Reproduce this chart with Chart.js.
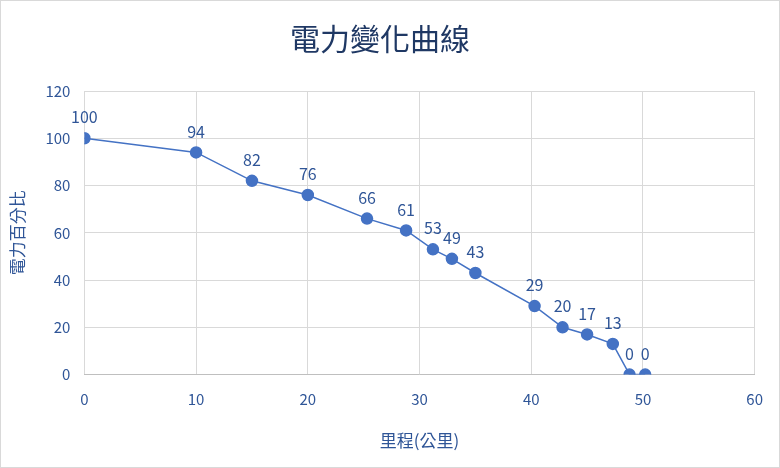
<!DOCTYPE html>
<html>
<head>
<meta charset="utf-8">
<script src="https://cdn.jsdelivr.net/npm/chart.js@4"></script>
<style>
  body { margin: 0; background: #fff; }
  #wrap { width: 778px; height: 466px; border: 1px solid #d9d9d9; }
</style>
</head>
<body>
<div id="wrap"><canvas id="chart" width="778" height="466"></canvas></div>
<script>
// mileage (km) and battery percent
const mileage = [0, 10, 15, 20, 25.3, 28.8, 31.2, 32.9, 35, 40.3, 42.8, 45, 47.3, 48.8, 50.2];
const battery = [100, 94, 82, 76, 66, 61, 53, 49, 43, 29, 20, 17, 13, 0, 0];

const FONT = "'Noto Sans CJK TC', 'Noto Sans', sans-serif";
const BLUE = "#2f5597";

// draw value labels above each point
const pointLabels = {
    id: "pointLabels",
    afterDatasetsDraw(chart) {
        const ctx = chart.ctx;
        const meta = chart.getDatasetMeta(0);
        ctx.save();
        ctx.font = `16px ${FONT}`;
        ctx.fillStyle = BLUE;
        ctx.textAlign = "center";
        ctx.textBaseline = "bottom";
        meta.data.forEach((pt, i) => {
            ctx.fillText(String(battery[i]), pt.x, pt.y - 13);
        });
        ctx.restore();
    },
};

new Chart(document.getElementById("chart"), {
    type: "scatter",
    data: {
        datasets: [{
            data: mileage.map((x, i) => ({ x, y: battery[i] })),
            showLine: true,
            borderColor: "#4472c4",
            backgroundColor: "#4472c4",
            borderWidth: 1.5,
            pointRadius: 5.5,
            pointHoverRadius: 5.5,
        }],
    },
    options: {
        responsive: false,
        animation: false,
        layout: { padding: { left: 2, right: 22, top: 10, bottom: 12 } },
        plugins: {
            legend: { display: false },
            tooltip: { enabled: false },
            title: {
                display: true,
                text: "電力變化曲線",
                color: "#1f3864",
                font: { family: FONT, size: 30, weight: "normal" },
                padding: { top: 10, bottom: 34 },
            },
        },
        scales: {
            x: {
                min: 0, max: 60,
                ticks: { stepSize: 10, color: BLUE, font: { family: FONT, size: 15 }, padding: 16 },
                grid: { color: "#d9d9d9", drawTicks: false },
                border: { color: "#bfbfbf" },
                title: { display: true, text: "里程(公里)", color: BLUE, font: { family: FONT, size: 17 }, padding: { top: 6 } },
            },
            y: {
                min: 0, max: 120,
                ticks: { stepSize: 20, color: BLUE, font: { family: FONT, size: 15 }, padding: 14 },
                grid: { color: "#d9d9d9", drawTicks: false },
                border: { display: false },
                title: { display: true, text: "電力百分比", color: BLUE, font: { family: FONT, size: 17 } },
            },
        },
    },
    plugins: [pointLabels],
});
</script>
</body>
</html>
